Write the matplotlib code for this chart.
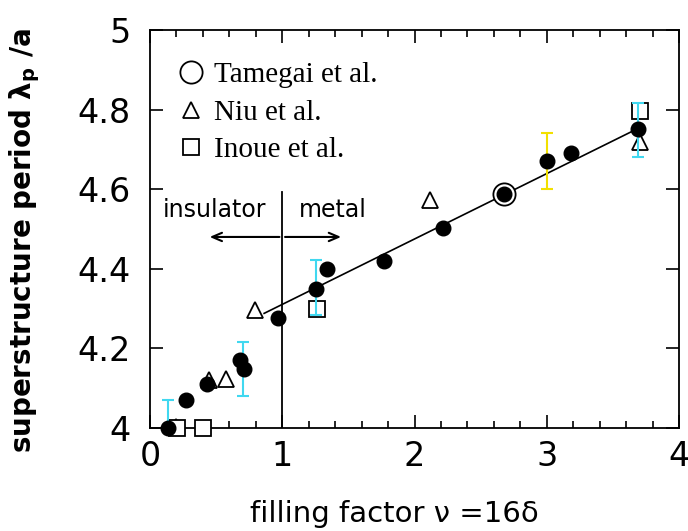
import matplotlib
matplotlib.use("Agg")
import matplotlib.pyplot as plt
from matplotlib.ticker import MultipleLocator

# data
dots_x = [0.139, 0.273, 0.429, 0.684, 0.708, 0.970, 1.257, 1.338, 1.767, 2.212, 2.678, 3.000, 3.182, 3.692]
dots_y = [4.000, 4.070, 4.111, 4.170, 4.149, 4.277, 4.350, 4.399, 4.419, 4.503, 4.587, 4.671, 4.692, 4.751]

tamegai_x = [2.678]
tamegai_y = [4.587]

niu_x = [0.193, 0.448, 0.574, 0.796, 2.118, 3.705]
niu_y = [4.003, 4.120, 4.122, 4.296, 4.573, 4.719]

inoue_x = [0.201, 0.399, 1.260, 3.705]
inoue_y = [4.000, 4.000, 4.298, 4.796]

# error bars: x, low, high
cyan_x = [0.139, 0.702, 1.252, 3.692]
cyan_lo = [4.000, 4.080, 4.283, 4.681]
cyan_hi = [4.070, 4.216, 4.422, 4.816]
yellow_x = [3.000]
yellow_lo = [4.600]
yellow_hi = [4.740]

fit_x = [0.863, 3.692]
fit_y = [4.288, 4.753]

border_x = 1.0
border_top = 4.593
arrow_y = 4.48
arrow_left = 0.43
arrow_right = 1.466

x_ticks = [0, 1, 2, 3, 4]
y_ticks = [4.0, 4.2, 4.4, 4.6, 4.8, 5.0]
y_tick_labels = ["4", "4.2", "4.4", "4.6", "4.8", "5"]

plt.rcParams["font.family"] = "DejaVu Sans"
plt.rcParams["mathtext.default"] = "regular"

fig = plt.figure(figsize=(6.88, 5.31), dpi=100)
ax = fig.add_axes([0.218, 0.194, 0.769, 0.7495])

ax.plot(fit_x, fit_y, color="black", lw=1.2, zorder=2)
ax.plot([border_x, border_x], [y_ticks[0], border_top], color="black", lw=1.3, zorder=2)

ax.annotate("", xy=(arrow_left, arrow_y), xytext=(border_x, arrow_y),
            arrowprops=dict(arrowstyle="->,head_length=0.7,head_width=0.3", color="black", lw=1.5))
ax.annotate("", xy=(arrow_right, arrow_y), xytext=(border_x, arrow_y),
            arrowprops=dict(arrowstyle="->,head_length=0.7,head_width=0.3", color="black", lw=1.5))
ax.text(0.488, 4.547, "insulator", ha="center", va="center", fontsize=17)
ax.text(1.386, 4.547, "metal", ha="center", va="center", fontsize=17)

ax.plot(tamegai_x, tamegai_y, ls="none", marker="o", ms=16, mfc="white", mec="black",
        mew=1.3, label="Tamegai et al.", zorder=3, clip_on=False)
ax.plot(niu_x, niu_y, ls="none", marker="^", ms=12, mfc="white", mec="black",
        mew=1.3, label="Niu et al.", zorder=3, clip_on=False)
ax.plot(inoue_x, inoue_y, ls="none", marker="s", ms=12, mfc="white", mec="black",
        mew=1.3, label="Inoue et al.", zorder=3, clip_on=False)

for xs, lo, hi, col in [(cyan_x, cyan_lo, cyan_hi, "#40d8f0"), (yellow_x, yellow_lo, yellow_hi, "#f2e000")]:
    mid = [(a + b) / 2 for a, b in zip(lo, hi)]
    err = [(b - a) / 2 for a, b in zip(lo, hi)]
    ax.errorbar(xs, mid, yerr=err, fmt="none", ecolor=col, elinewidth=1.5,
                capsize=4, capthick=1.5, zorder=4, clip_on=False)

ax.plot(dots_x, dots_y, ls="none", marker="o", ms=10.5, color="black", zorder=5, clip_on=False)

ax.set_xlim(0, 4)
ax.set_ylim(4, 5)
ax.set_xticks(x_ticks)
ax.xaxis.set_minor_locator(MultipleLocator(0.2))
ax.set_yticks(y_ticks)
ax.set_yticklabels(y_tick_labels)
ax.tick_params(which="both", direction="in", top=True, right=True, width=1.2)
ax.tick_params(which="major", length=9.5)
ax.tick_params(which="minor", length=5)
ax.tick_params(axis="x", labelsize=24, pad=9)
ax.tick_params(axis="y", labelsize=24, pad=14)
for sp in ax.spines.values():
    sp.set_linewidth(1.3)

ax.set_xlabel("filling factor \u03bd =16\u03b4", fontsize=21)
ax.set_ylabel("superstructure period $\\lambda_p$ /a", fontsize=20, fontweight="bold")
ax.xaxis.set_label_coords(0.461, -0.182)
ax.yaxis.set_label_coords(-0.205, 0.472)

ax.legend(loc="upper left", bbox_to_anchor=(0.053, 0.92), frameon=False,
          prop={"family": "Liberation Serif", "size": 21}, borderpad=0, borderaxespad=0,
          labelspacing=0.38, handlelength=0.9, handletextpad=0.35, numpoints=1)

fig.savefig("out.png", dpi=100)
